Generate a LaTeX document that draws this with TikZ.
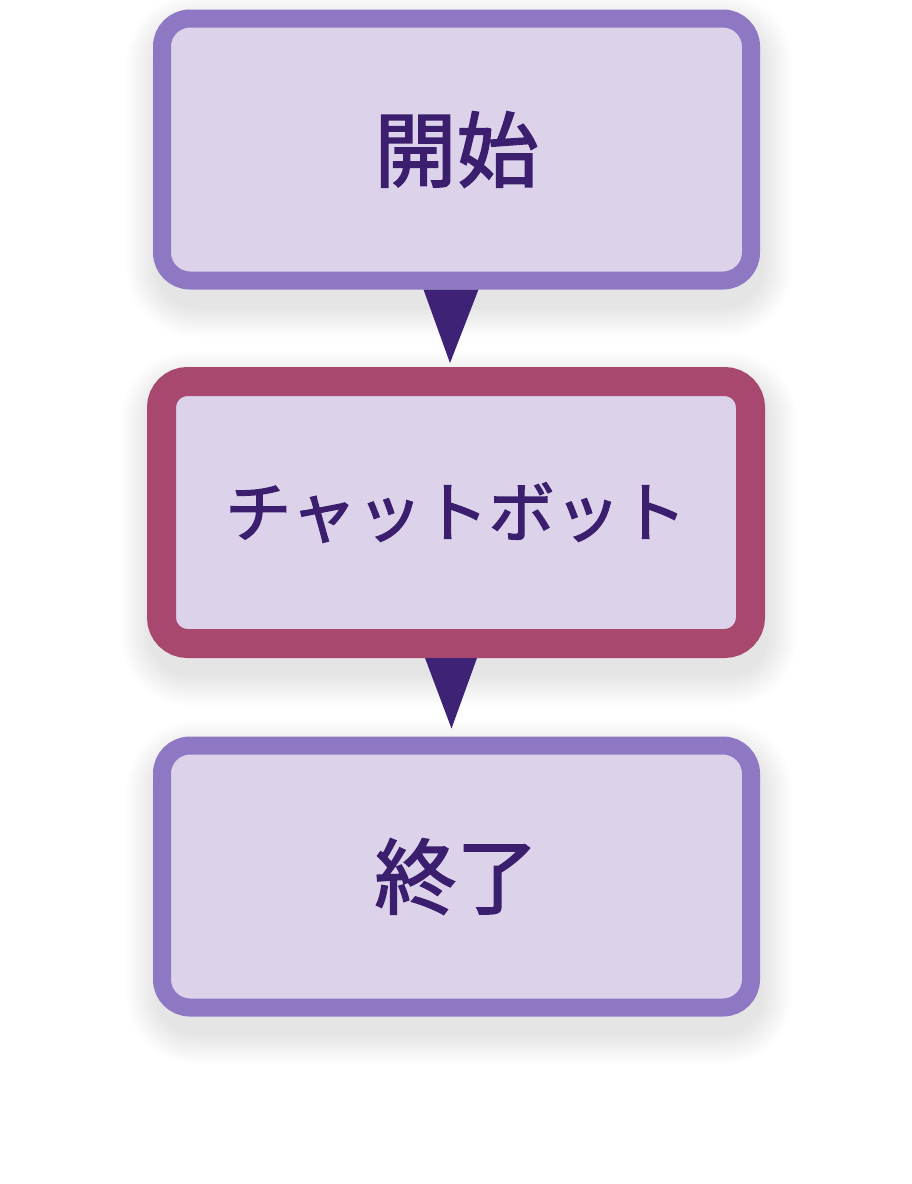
\documentclass[tikz,border=0pt]{standalone}
\usepackage{fontspec}
\newfontfamily\cjk[FakeBold=2]{Noto Sans CJK JP}
\pgfdeclarelayer{background}
\pgfsetlayers{background,main}
\definecolor{fillc}{HTML}{DCD3EA}
\definecolor{purplec}{HTML}{8E78C4}
\definecolor{magc}{HTML}{A8486F}
\definecolor{arrowc}{HTML}{3D2275}
\definecolor{textc}{HTML}{3B1F6E}
\tikzset{
  box/.style={draw=purplec, fill=fillc, line width=18pt, rounded corners=28pt,
    minimum width=589pt, minimum height=262pt, inner sep=0pt, text=textc,
    font=\cjk\fontsize{82pt}{90pt}\selectfont},
  hibox/.style={box, draw=magc, line width=29pt, rounded corners=26pt,
    font=\cjk\fontsize{66pt}{72pt}\selectfont},
  tri/.style={fill=arrowc},
  shadowstep/.style={fill=black, fill opacity=0.0055}
}
\newcommand\softshadow[1]{%
  \foreach \e in {0,1.2,...,30}{%
    \fill[shadowstep, rounded corners=40pt+\e pt]
      ([xshift=-\e pt+3pt, yshift=-\e pt-18pt]#1.south west) rectangle
      ([xshift=\e pt+3pt, yshift=\e pt-14pt]#1.north east);
  }}
\begin{document}
\begin{tikzpicture}[x=1pt,y=-1pt]
\useasboundingbox (0,0) rectangle (912,1184);
\node[box] (start) at (456.5,149.5) {開始};
\node[hibox] (bot) at (456,512.5) {チャットボット};
\node[box] (end) at (456.5,876.5) {終了};
\begin{pgfonlayer}{background}
\fill[white] (0,0) rectangle (912,1184);
\softshadow{start}
\softshadow{bot}
\softshadow{end}
\end{pgfonlayer}
\fill[tri] ([xshift=-33pt]start.south) -- ([xshift=22pt]start.south) -- ([xshift=-6pt,yshift=4pt]bot.north) -- cycle;
\fill[tri] ([xshift=-31pt]bot.south) -- ([xshift=21pt]bot.south) -- ([xshift=-5pt,yshift=8pt]end.north) -- cycle;
\end{tikzpicture}
\end{document}
